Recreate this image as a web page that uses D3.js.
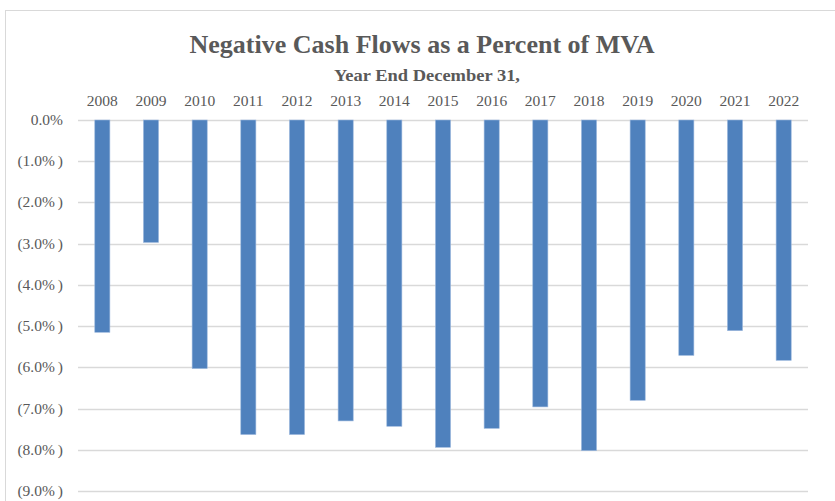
<!DOCTYPE html>
<html><head><meta charset="utf-8">
<script src="https://cdn.jsdelivr.net/npm/d3@7"></script>
<style>body{margin:0;background:#fff}svg{display:block}</style>
</head><body>
<svg id="c" width="835" height="501"></svg>
<script>
const years = ["2008","2009","2010","2011","2012","2013","2014","2015","2016","2017","2018","2019","2020","2021","2022"];
const values = [-5.15,-2.97,-6.03,-7.63,-7.63,-7.30,-7.43,-7.94,-7.48,-6.96,-8.02,-6.80,-5.71,-5.11,-5.83];
const yTicks = [0,-1,-2,-3,-4,-5,-6,-7,-8,-9];
const title = "Negative Cash Flows as a Percent of MVA";
const subtitle = "Year End December 31,";

const svg = d3.select("#c");
const m = {left:78, right:808, top:120, bottom:491};
const x = d3.scaleBand().domain(years).range([m.left,m.right]).paddingInner(0.69).paddingOuter(0.345);
const y = d3.scaleLinear().domain([0,-9]).range([m.top,m.bottom]);
const serif = "'Liberation Serif','Times New Roman',serif";
const gray = "#595959";

svg.append("rect").attr("x",5.5).attr("y",10.5).attr("width",840).attr("height",500)
  .attr("fill","#fff").attr("stroke","#d9d9d9").attr("stroke-width",1);

svg.append("g").selectAll("line").data(yTicks).join("line")
  .attr("x1",m.left).attr("x2",m.right)
  .attr("y1",d=>Math.round(y(d))+0.5).attr("y2",d=>Math.round(y(d))+0.5)
  .attr("stroke","#d9d9d9").attr("stroke-width",1.3);

svg.append("g").selectAll("rect").data(values).join("rect")
  .attr("x",(d,i)=>x(years[i])).attr("width",x.bandwidth())
  .attr("y",y(0)).attr("height",d=>y(d)-y(0))
  .attr("fill","#4f81bd").attr("stroke","#9bb7dd").attr("stroke-width",0.6);

const yl = svg.append("g").selectAll("text").data(yTicks).join("text")
  .attr("x",63).attr("y",d=>y(d)+5).attr("text-anchor","end")
  .attr("font-family",serif).attr("font-size",15.5).attr("fill",gray);
yl.each(function(d){
  const t = d3.select(this);
  if (d===0) { t.text("0.0%"); }
  else {
    t.append("tspan").text("(" + Math.abs(d).toFixed(1) + "%");
    t.append("tspan").attr("dx",3).text(")");
  }
});

svg.append("g").selectAll("text").data(years).join("text")
  .attr("x",d=>x(d)+x.bandwidth()/2).attr("y",105.5).attr("text-anchor","middle")
  .attr("font-family",serif).attr("font-size",15.5).attr("fill",gray)
  .text(d=>d);

svg.append("text").attr("x",422).attr("y",53).attr("text-anchor","middle")
  .attr("font-family",serif).attr("font-size",25).attr("font-weight","bold").attr("fill",gray)
  .attr("textLength",465).attr("lengthAdjust","spacingAndGlyphs").text(title);
svg.append("text").attr("x",427).attr("y",81).attr("text-anchor","middle")
  .attr("font-family",serif).attr("font-size",16).attr("font-weight","bold").attr("fill",gray)
  .attr("textLength",186).attr("lengthAdjust","spacingAndGlyphs").text(subtitle);
</script>
</body></html>
